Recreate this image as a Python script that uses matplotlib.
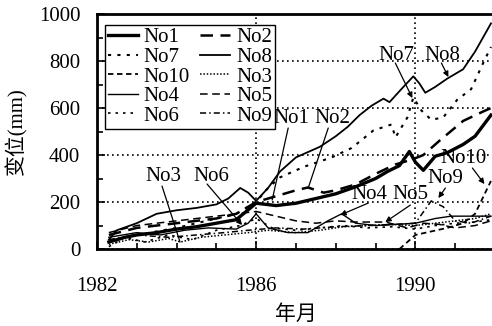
import matplotlib
matplotlib.use('Agg')
import matplotlib.pyplot as plt
from matplotlib.ticker import MultipleLocator, FixedLocator

plt.rcParams['font.family'] = ['Liberation Serif', 'Noto Sans CJK SC']
plt.rcParams['font.size'] = 15

# displacement of each monitoring point (year, mm)
no1_t = [1982.3, 1982.7, 1983.0, 1983.5, 1984.0, 1984.5, 1985.0, 1985.5, 1986.0, 1986.5, 1987.0, 1987.5, 1988.0, 1988.5, 1989.0, 1989.3, 1989.6, 1989.85, 1990.0, 1990.2, 1990.5, 1990.8, 1991.2, 1991.5, 1991.9]
no1_v = [30, 50, 60, 70, 85, 95, 110, 125, 195, 185, 195, 215, 235, 265, 300, 330, 355, 415, 370, 335, 395, 410, 445, 480, 570]

no2_t = [1982.3, 1983.0, 1984.0, 1985.0, 1985.5, 1986.0, 1986.5, 1987.0, 1987.3, 1987.7, 1988.0, 1988.5, 1989.0, 1989.5, 1989.9, 1990.2, 1990.6, 1991.2, 1991.7, 1991.9]
no2_v = [60, 90, 110, 130, 150, 200, 225, 250, 262, 240, 250, 275, 320, 360, 380, 400, 460, 545, 585, 600]

no7_t = [1982.3, 1983.0, 1984.0, 1985.0, 1985.5, 1986.0, 1986.3, 1986.6, 1987.2, 1987.9, 1988.4, 1988.95, 1989.4, 1989.5, 1989.8, 1989.95, 1990.15, 1990.4, 1990.7, 1991.05, 1991.4, 1991.7, 1991.9]
no7_v = [30, 60, 90, 130, 150, 200, 260, 305, 350, 390, 430, 505, 530, 475, 560, 645, 590, 550, 560, 635, 680, 790, 860]

no8_t = [1982.3, 1982.5, 1983.0, 1983.5, 1984.0, 1984.5, 1985.0, 1985.3, 1985.6, 1985.8, 1986.0, 1986.3, 1986.6, 1987.0, 1987.6, 1988.0, 1988.3, 1988.6, 1988.9, 1989.2, 1989.35, 1989.7, 1989.95, 1990.1, 1990.25, 1990.5, 1990.8, 1991.2, 1991.5, 1991.9]
no8_v = [40, 80, 110, 150, 165, 175, 190, 215, 260, 240, 205, 260, 330, 390, 435, 480, 520, 570, 610, 640, 625, 690, 735, 705, 665, 690, 725, 765, 840, 960]

no10_t = [1989.6, 1989.8, 1990.0, 1990.4, 1990.8, 1991.2, 1991.5, 1991.7, 1991.9]
no10_v = [0, 30, 60, 75, 90, 110, 150, 220, 290]

no3_t = [1982.3, 1982.8, 1983.3, 1983.8, 1984.1, 1984.6, 1985.2, 1985.8, 1986.3, 1987.0, 1987.6, 1988.2, 1988.8, 1989.4, 1990.0, 1990.5, 1991.0, 1991.5, 1991.9]
no3_v = [20, 40, 30, 45, 30, 50, 60, 70, 80, 70, 80, 95, 100, 105, 100, 110, 120, 130, 150]

no4_t = [1982.3, 1983.0, 1983.6, 1984.2, 1984.8, 1985.5, 1985.8, 1986.0, 1986.3, 1986.8, 1987.3, 1987.8, 1988.15, 1988.5, 1989.0, 1989.5, 1990.0, 1990.5, 1990.9, 1991.9]
no4_v = [50, 70, 60, 80, 90, 85, 110, 150, 90, 70, 70, 120, 150, 110, 100, 105, 110, 130, 140, 140]

no5_t = [1982.3, 1983.0, 1983.5, 1984.0, 1984.5, 1985.0, 1985.5, 1986.0, 1986.5, 1987.0, 1987.5, 1988.0, 1988.5, 1989.25, 1989.8, 1990.2, 1990.6, 1991.0, 1991.5, 1991.9]
no5_v = [70, 100, 110, 120, 130, 140, 150, 160, 140, 120, 110, 120, 115, 115, 90, 110, 105, 90, 100, 120]

no6_t = [1982.3, 1982.7, 1983.2, 1983.8, 1984.4, 1985.0, 1985.6, 1986.0, 1986.4, 1987.0, 1987.6, 1988.2, 1988.8, 1989.4, 1990.0, 1990.5, 1991.0, 1991.5, 1991.9]
no6_v = [10, 50, 30, 60, 40, 80, 100, 130, 90, 80, 90, 100, 90, 95, 85, 100, 110, 115, 125]

no9_t = [1982.3, 1983.0, 1983.8, 1984.5, 1985.2, 1985.8, 1986.5, 1987.2, 1988.0, 1988.8, 1989.5, 1990.0, 1990.4, 1990.7, 1991.0, 1991.4, 1991.9]
no9_v = [40, 60, 50, 60, 70, 80, 90, 85, 95, 100, 105, 110, 205, 180, 120, 110, 140]

year_ticks = [1982, 1986, 1990]

fig = plt.figure(figsize=(4.92, 3.26), dpi=100)
ax = fig.add_axes([0.197, 0.236, 0.809, 0.721])

k = 'black'
h = {}
h['No1'], = ax.plot(no1_t, no1_v, color=k, lw=2.4)
h['No2'], = ax.plot(no2_t, no2_v, color=k, lw=1.8, ls=(0, (5, 3)))
h['No7'], = ax.plot(no7_t, no7_v, color=k, lw=1.5, ls=(0, (1.5, 3)))
h['No8'], = ax.plot(no8_t, no8_v, color=k, lw=1.3)
h['No10'], = ax.plot(no10_t, no10_v, color=k, lw=1.3, ls=(0, (3, 2)))
h['No3'], = ax.plot(no3_t, no3_v, color=k, lw=1.1, ls=(0, (1, 1.2)))
h['No4'], = ax.plot(no4_t, no4_v, color=k, lw=1.0)
h['No5'], = ax.plot(no5_t, no5_v, color=k, lw=1.1, ls=(0, (5, 3)))
h['No6'], = ax.plot(no6_t, no6_v, color=k, lw=1.2, ls=(0, (1.5, 3)))
h['No9'], = ax.plot(no9_t, no9_v, color=k, lw=1.1, ls=(0, (4, 2, 1, 2)))

ax.set_xlim(1982, 1992)
ax.set_ylim(0, 1000)
ax.xaxis.set_major_locator(FixedLocator(year_ticks))
ax.xaxis.set_minor_locator(MultipleLocator(1))
ax.yaxis.set_major_locator(MultipleLocator(200))
ax.yaxis.set_minor_locator(MultipleLocator(100))
ax.tick_params(which='both', direction='in', width=1.2)
ax.tick_params(which='major', length=6)
ax.tick_params(which='minor', length=4)
ax.tick_params(axis='x', pad=20)
ax.tick_params(axis='y', pad=12)
for s in ax.spines.values():
    s.set_linewidth(2)
ax.grid(True, which='major', color=k, ls=(0, (1, 2)), lw=1.2)

ax.set_ylabel('变位(mm)', labelpad=8)
ax.set_xlabel('年月', labelpad=7)

# legend is filled column by column, so list the left column first
order = ['No1', 'No7', 'No10', 'No4', 'No6', 'No2', 'No8', 'No3', 'No5', 'No9']
leg = ax.legend([h[n] for n in order], order, ncol=2, loc='upper left',
                bbox_to_anchor=(0.0, 0.99), fancybox=False, edgecolor=k,
                framealpha=1, fontsize=15, handlelength=1.4,
                handletextpad=0.3, columnspacing=0.5, labelspacing=0.0,
                borderpad=0.15, borderaxespad=0.4)
leg.get_frame().set_linewidth(1)


def px(x, y):
    return 1982 + (x - 97) / 39.75, (249 - y) / 0.235


# labels with leader lines to the curves
notes = [
    ('No1', (291, 118), (288, 128), (272, 200), False),
    ('No2', (332, 118), (328, 128), (308, 188), False),
    ('No7', (396, 55), (395, 63), (412, 98), True),
    ('No8', (442, 55), (441, 63), (448, 77), True),
    ('No3', (163, 176), (162, 186), (180, 242), False),
    ('No6', (211, 176), (207, 184), (242, 225), True),
    ('No4', (369, 194), (368, 203), (340, 215), True),
    ('No5', (410, 194), (410, 205), (385, 222), True),
    ('No9', (445, 178), (445, 188), (438, 198), True),
    ('No10', (463, 158), (472, 168), (484, 184), True),
]
for name, tpos, a, b, head in notes:
    ax.text(*px(*tpos), name, ha='center', va='center', fontsize=15)
    style = '-|>' if head else '-'
    ax.annotate('', xy=px(*b), xytext=px(*a),
                arrowprops=dict(arrowstyle=style, color=k, lw=0.9,
                                mutation_scale=8, shrinkA=0, shrinkB=0))

fig.savefig('out.png', dpi=100)
